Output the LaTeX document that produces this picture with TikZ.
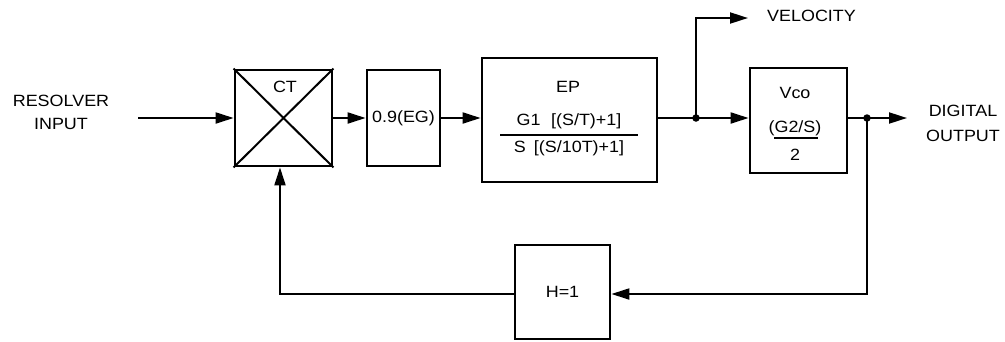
\documentclass[tikz,border=0pt]{standalone}
\usepackage{fontspec}
\setmainfont{Liberation Sans}[FakeStretch=1.1]
\usetikzlibrary{arrows.meta,calc}
\tikzset{
  blk/.style={draw, line width=2.8pt, minimum width=#1, inner sep=0pt},
  lbl/.style={font=\fontsize{16.3}{23}\selectfont, inner sep=0pt, align=center},
  ln/.style={line width=2pt},
  arr/.style={line width=2pt, -{Triangle[length=18pt,width=11pt]}},
  dot/.style={circle, fill, inner sep=0pt, minimum size=7.5pt},
}
\begin{document}
\begin{tikzpicture}[x=1pt,y=-1pt]
\useasboundingbox (0,0) rectangle (1005,341);
% blocks
\node[blk=97pt, minimum height=96pt] (ct) at (283.5,118) {};
\draw[ln] (ct.north west) -- (ct.south east) (ct.south west) -- (ct.north east);
\node[lbl] (ctl) at (285,87) {CT};
\node[blk=73pt, minimum height=96pt, lbl, draw, line width=2.8pt] (eg) at (403.5,118) {0.9(EG)};
\node[blk=175pt, minimum height=124pt] (ep) at (569.5,120) {};
\node[lbl] (epl) at (568,87) {EP};
\node[lbl] (epn) at (569,121) {G1\hspace{0.65em}[(S/T)+1]};
\node[lbl] (epd) at (569,148) {S\hspace{0.5em}[(S/10T)+1]};
\draw[ln] (500,135) -- (638,135);
\node[blk=97pt, minimum height=105pt] (vco) at (798.5,120.5) {};
\node[lbl] (vcol) at (795,93) {Vco};
\node[lbl] (vcon) at (795,128) {(G2/S)};
\draw[ln] (774,137.5) -- (818,137.5);
\node[lbl] (vcod) at (795,155) {2};
\node[blk=95pt, minimum height=94pt, lbl, draw, line width=2.8pt] (h) at (562.5,292) {H=1};
% labels
\node[lbl] (rin) at (61,112.5) {RESOLVER\\INPUT};
\node[lbl, anchor=west] (vel) at (767,16) {VELOCITY};
\node[lbl, font=\fontsize{16.3}{25}\selectfont] (dout) at (963,123) {DIGITAL\\OUTPUT};
% coordinates
\coordinate (in) at (138,118);
\coordinate (j1) at (696,118);
\coordinate (vtip) at (748,18);
\coordinate (j2) at (867,118);
\coordinate (otip) at (907,118);
\coordinate (fbr) at (867,294);
\coordinate (fbl) at (280,294);
% connectors
\draw[arr] (in) -- (ct.west |- in);
\draw[arr] (ct.east |- in) -- (eg.west |- in);
\draw[arr] (eg.east |- in) -- (ep.west |- in);
\draw[ln] (ep.east |- j1) -- (j1);
\draw[arr] (j1) -- (vco.west |- j1);
\draw[arr] (j1) -- (j1 |- vtip) -- (vtip);
\draw[ln] (vco.east |- j2) -- (j2);
\draw[arr] (j2) -- (otip);
\draw[arr] (j2) -- (fbr) -- (h.east |- fbr);
\draw[arr] (h.west |- fbl) -- (fbl) -- (fbl |- ct.south);
\node[dot] (d1) at (j1) {};
\node[dot] (d2) at (j2) {};
\end{tikzpicture}
\end{document}
